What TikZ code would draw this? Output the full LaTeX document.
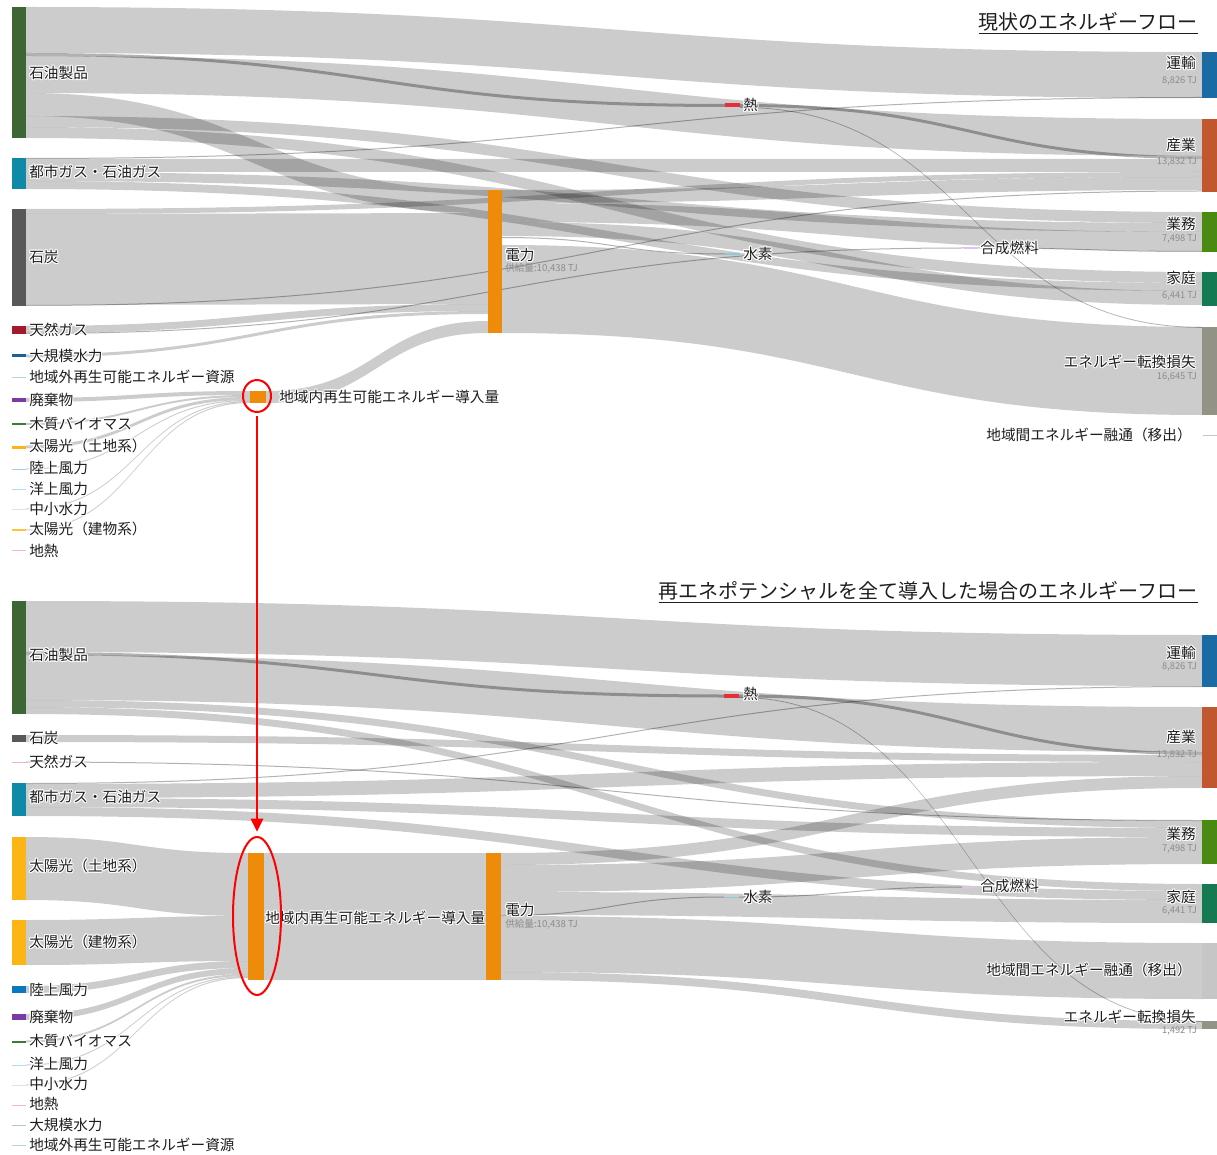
\documentclass[tikz,border=0pt]{standalone}
\usepackage{fontspec}
\setmainfont{Noto Sans CJK JP}
\usetikzlibrary{calc,fit,shapes.geometric,arrows.meta}
\pgfdeclarelayer{back}
\pgfdeclarelayer{flows}
\pgfsetlayers{back,flows,main}

\definecolor{oilc}{HTML}{3D6634}
\definecolor{gasc}{HTML}{0F89A8}
\definecolor{coalc}{HTML}{585858}
\definecolor{ngc}{HTML}{A5192E}
\definecolor{ngpc}{HTML}{F2B0C0}
\definecolor{hydc}{HTML}{1F5F99}
\definecolor{hydlc}{HTML}{A9C6DA}
\definecolor{extc}{HTML}{B7DDB7}
\definecolor{wasc}{HTML}{7A3BA8}
\definecolor{bioc}{HTML}{3F7A3A}
\definecolor{solc}{HTML}{FDB515}
\definecolor{solbc}{HTML}{FFC43D}
\definecolor{onwlc}{HTML}{9DCFE8}
\definecolor{onwc}{HTML}{0A78BE}
\definecolor{offc}{HTML}{AEE0F2}
\definecolor{smhc}{HTML}{D9E5EF}
\definecolor{geoc}{HTML}{F2B6C6}
\definecolor{rinc}{HTML}{EE8C0A}
\definecolor{heatc}{HTML}{E63038}
\definecolor{h2c}{HTML}{8CCAD8}
\definecolor{sync}{HTML}{E2C2F2}
\definecolor{trac}{HTML}{1A6AA4}
\definecolor{indc}{HTML}{C1572F}
\definecolor{comc}{HTML}{4B8A12}
\definecolor{homc}{HTML}{157A52}
\definecolor{losc}{HTML}{939385}
\definecolor{expc}{HTML}{C6C6C6}
\definecolor{tjgray}{HTML}{8C8C8C}
\definecolor{lblc}{HTML}{1E1E1E}

\newcommand\lblfont{\fontsize{11}{13}\selectfont}
\newcommand\tjfont{\fontsize{7}{8}\selectfont}
\newcommand\suplfont{\fontsize{7.2}{8.5}\selectfont}
\newcommand\ttlfont{\fontsize{15}{18}\selectfont}

\newcommand\halo[1]{\setbox0=\hbox{#1}%
 \rlap{\color{white}\kern0.8pt\copy0}%
 \rlap{\color{white}\kern-0.8pt\copy0}%
 \rlap{\color{white}\raise0.8pt\copy0}%
 \rlap{\color{white}\lower0.8pt\copy0}%
 \rlap{\color{white}\kern0.6pt\raise0.6pt\copy0}%
 \rlap{\color{white}\kern-0.6pt\raise0.6pt\copy0}%
 \rlap{\color{white}\kern0.6pt\lower0.6pt\copy0}%
 \rlap{\color{white}\kern-0.6pt\lower0.6pt\copy0}%
 \box0}

\tikzset{
 barnode/.style={inner sep=0pt,outer sep=0pt,draw=none,minimum width=0pt,minimum height=0pt},
 flowfill/.style={fill=black,fill opacity=0.2},
 thinf/.style={fill=black,fill opacity=0.3},
 darkf/.style={fill=black,fill opacity=0.3},
 lbl/.style={anchor=west,inner sep=0pt,font=\lblfont,text=lblc},
 rlbl/.style={anchor=east,inner sep=0pt,font=\lblfont,text=lblc},
 tj/.style={anchor=east,inner sep=0pt,font=\tjfont,text=tjgray},
 supl/.style={anchor=west,inner sep=0pt,font=\suplfont,text=tjgray},
 ttl/.style={anchor=south east,inner sep=0pt,font=\ttlfont,text=lblc},
 ring/.style={draw=red,line width=1.5pt,ellipse,inner sep=0pt},
 redarrow/.style={draw=red,line width=2.2pt,-{Triangle[width=9pt,length=10pt]}},
}

\newcommand\mkbar[6]{\node[barnode,fill=#2,fit={(#3,#4) (#5,#6)}] (#1) {};}

\newcommand\flow[7][]{%
 \begin{pgfonlayer}{flows}
 \path (#2.east |- 0,#3) coordinate (fa) (#2.east |- 0,#4) coordinate (fb)
       (#5.west |- 0,#6) coordinate (fc) (#5.west |- 0,#7) coordinate (fd);
 \path ($(fa)!0.5!(fc)$) coordinate (fm);
 \fill[flowfill,#1] (fa) .. controls (fm |- fa) and (fm |- fc) .. (fc) -- (fd) .. controls (fm |- fd) and (fm |- fb) .. (fb) -- cycle;
 \end{pgfonlayer}}

\begin{document}
\begin{tikzpicture}[x=0.75pt,y=-0.75pt]
\begin{pgfonlayer}{back}
\fill[white] (0,0) rectangle (1217,1155);
\end{pgfonlayer}
\useasboundingbox (0,0) rectangle (1217,1155);

%================ TOP DIAGRAM =================
\mkbar{oilA}{oilc}{12}{7}{26}{138}
\mkbar{gasA}{gasc}{12}{158}{26}{189}
\mkbar{coalA}{coalc}{12}{209}{26}{306}
\mkbar{ngA}{ngc}{12}{326}{26}{334}
\mkbar{hydA}{hydc}{12}{354.5}{26}{357.5}
\mkbar{extA}{extc}{12}{377}{26}{378.5}
\mkbar{wasA}{wasc}{12}{398}{26}{402}
\mkbar{bioA}{bioc}{12}{423}{26}{425}
\mkbar{solLA}{solc}{12}{445.5}{26}{448.5}
\mkbar{onwA}{onwlc}{12}{468.5}{26}{469.8}
\mkbar{offA}{offc}{12}{488.5}{26}{489.8}
\mkbar{smhA}{smhc}{12}{508.5}{26}{509.8}
\mkbar{solBA}{solbc}{12}{529}{26}{531}
\mkbar{geoA}{geoc}{12}{550}{26}{551.3}
\mkbar{rinA}{rinc}{250}{391}{266}{403}
\mkbar{elA}{rinc}{488}{190}{502}{333}
\mkbar{heatA}{heatc}{725}{103.5}{740}{107.5}
\mkbar{h2A}{h2c}{725}{253.5}{740}{254.8}
\mkbar{synA}{sync}{964}{247.5}{978}{248.8}
\mkbar{traA}{trac}{1202}{52}{1217}{98}
\mkbar{indA}{indc}{1202}{119}{1217}{192}
\mkbar{comA}{comc}{1202}{212}{1217}{252}
\mkbar{homA}{homc}{1202}{272}{1217}{306}
\mkbar{losA}{losc}{1202}{327}{1217}{415}
\mkbar{expA}{expc}{1203}{434.5}{1217}{435.7}

\flow{oilA}{7}{53}{traA}{52}{98}
\flow[darkf]{oilA}{53}{56}{heatA}{104}{107}
\flow{oilA}{56}{93}{indA}{119}{156}
\flow{oilA}{93}{116}{elA}{190}{213}
\flow{oilA}{116}{127}{comA}{212}{223}
\flow{oilA}{127}{138}{homA}{272}{283}
\flow[thinf]{gasA}{158}{159}{traA}{97}{98}
\flow{gasA}{159}{172}{indA}{159}{172}
\flow{gasA}{172}{181}{comA}{223}{232}
\flow{gasA}{181}{189}{homA}{283}{291}
\flow{coalA}{209}{214}{indA}{172}{177}
\flow{coalA}{214}{305}{elA}{213}{304}
\flow[thinf]{coalA}{305}{306}{indA}{190.5}{191.5}
\flow{ngA}{326}{333}{elA}{304}{311}
\flow[thinf]{ngA}{333}{334}{synA}{247.5}{248.5}
\flow{hydA}{354.5}{357.5}{elA}{311}{314}
\flow{rinA}{391}{403}{elA}{321}{333}
\flow[darkf]{heatA}{104}{107}{indA}{156}{159}
\flow[thinf]{heatA}{107}{107.8}{losA}{327}{327.8}
\flow{elA}{190}{203}{indA}{177}{190}
\flow{elA}{203}{222}{comA}{232}{251}
\flow{elA}{222}{236}{homA}{291}{305}
\flow[thinf]{elA}{237}{238}{h2A}{253.5}{254.5}
\flow{elA}{245}{333}{losA}{327}{415}
\flow[thinf]{synA}{247.5}{248.5}{comA}{251}{252}
\flow{wasA}{398}{402}{rinA}{391}{395}
\flow{bioA}{423}{425}{rinA}{395}{397}
\flow{solLA}{445.5}{448.5}{rinA}{397}{400}
\flow{onwA}{468.5}{469.5}{rinA}{400}{401}
\flow{smhA}{508.5}{509.5}{rinA}{401}{402}
\flow{solBA}{529.5}{530.5}{rinA}{402}{403}

\node[ttl] (ttlA) at (1198,31.5) {現状のエネルギーフロー};
\coordinate (ulA1) at (ttlA.south west |- 0,33.5);
\coordinate (ulA2) at (ttlA.south east |- 0,33.5);
\draw[line width=0.8pt,lblc] (ulA1) -- (ulA2);

\node[lbl] (lOilA) at (29,73) {\halo{石油製品}};
\node[lbl] (lGasA) at (29,172) {\halo{都市ガス・石油ガス}};
\node[lbl] (lCoalA) at (29,257) {\halo{石炭}};
\node[lbl] (lNgA) at (29,330) {\halo{天然ガス}};
\node[lbl] (lHydA) at (29,356) {\halo{大規模水力}};
\node[lbl] (lExtA) at (29,377) {\halo{地域外再生可能エネルギー資源}};
\node[lbl] (lWasA) at (29,400) {\halo{廃棄物}};
\node[lbl] (lBioA) at (29,424) {\halo{木質バイオマス}};
\node[lbl] (lSolLA) at (29,446) {\halo{太陽光（土地系）}};
\node[lbl] (lOnwA) at (29,468) {\halo{陸上風力}};
\node[lbl] (lOffA) at (29,489) {\halo{洋上風力}};
\node[lbl] (lSmhA) at (29,509) {\halo{中小水力}};
\node[lbl] (lSolBA) at (29,529) {\halo{太陽光（建物系）}};
\node[lbl] (lGeoA) at (29,551) {\halo{地熱}};

\node[lbl] (lRinA) at (279,397) {\halo{地域内再生可能エネルギー導入量}};
\node[lbl] (lElA) at (505,255) {\halo{電力}};
\node[supl] (sElA) at (505,268) {供給量:10,438 TJ};
\node[lbl] (lHeatA) at (743,105) {\halo{熱}};
\node[lbl] (lH2A) at (743,254) {\halo{水素}};
\node[lbl] (lSynA) at (980,248) {\halo{合成燃料}};

\node[rlbl] (lTraA) at (1196,63) {\halo{運輸}};
\node[tj] (vTraA) at (1197,81) {8,826 TJ};
\node[rlbl] (lIndA) at (1196,145) {\halo{産業}};
\node[tj] (vIndA) at (1197,162) {13,832 TJ};
\node[rlbl] (lComA) at (1196,224) {\halo{業務}};
\node[tj] (vComA) at (1197,239) {7,498 TJ};
\node[rlbl] (lHomA) at (1196,278) {\halo{家庭}};
\node[tj] (vHomA) at (1197,296) {6,441 TJ};
\node[rlbl] (lLosA) at (1196,362) {\halo{エネルギー転換損失}};
\node[tj] (vLosA) at (1197,377) {16,645 TJ};
\node[rlbl] (lExpA) at (1192,435) {\halo{地域間エネルギー融通（移出）}};

%================ BOTTOM DIAGRAM =================
\mkbar{oilB}{oilc}{12}{601}{26}{714}
\mkbar{coalB}{coalc}{12}{735}{26}{742}
\mkbar{ngB}{ngpc}{12}{761.5}{26}{762.8}
\mkbar{gasB}{gasc}{12}{783}{26}{816}
\mkbar{solLB}{solc}{12}{837}{26}{900}
\mkbar{solBB}{solc}{12}{920}{26}{965}
\mkbar{onwB}{onwc}{12}{986}{26}{993}
\mkbar{wasB}{wasc}{12}{1014}{26}{1020}
\mkbar{bioB}{bioc}{12}{1040.5}{26}{1042.5}
\mkbar{offB}{offc}{12}{1064.5}{26}{1065.8}
\mkbar{smhB}{smhc}{12}{1084.5}{26}{1085.8}
\mkbar{geoB}{geoc}{12}{1104.5}{26}{1105.8}
\mkbar{hydB}{hydlc}{12}{1124.5}{26}{1125.8}
\mkbar{extB}{extc}{12}{1144.5}{26}{1145.8}
\mkbar{rinB}{rinc}{248}{853}{264}{980}
\mkbar{elB}{rinc}{486}{853}{501}{980}
\mkbar{heatB}{heatc}{724}{694}{739}{698}
\mkbar{h2B}{h2c}{724}{896.5}{739}{897.8}
\mkbar{synB}{sync}{962}{886.5}{978}{887.8}
\mkbar{traB}{trac}{1202}{635}{1217}{687}
\mkbar{indB}{indc}{1202}{707}{1217}{788}
\mkbar{comB}{comc}{1202}{820}{1217}{864}
\mkbar{homB}{homc}{1202}{884}{1217}{923}
\mkbar{expB}{expc}{1202}{943}{1217}{999}
\mkbar{losB}{losc}{1202}{1021}{1217}{1029}

\flow{oilB}{601}{652}{traB}{635}{686}
\flow[darkf]{oilB}{652}{655}{heatB}{694.5}{697.5}
\flow{oilB}{655}{700}{indB}{707}{752}
\flow{oilB}{700}{707}{comB}{821}{828}
\flow{oilB}{707}{714}{homB}{884}{891}
\flow[darkf]{heatB}{694.5}{697.5}{indB}{752}{755}
\flow[thinf]{heatB}{697}{697.8}{losB}{1021}{1021.8}
\flow{coalB}{735}{742}{indB}{755}{762}
\flow[thinf]{ngB}{761.5}{762.5}{comB}{820}{821}
\flow[thinf]{gasB}{783}{784}{traB}{686}{687}
\flow{gasB}{784}{798}{indB}{762}{776}
\flow{gasB}{798}{807}{comB}{828}{837}
\flow{gasB}{807}{816}{homB}{891}{900}
\flow{elB}{853}{865}{indB}{776}{788}
\flow{elB}{865}{892}{comB}{837}{864}
\flow{elB}{892}{915}{homB}{900}{923}
\flow[thinf]{elB}{915}{916}{h2B}{896.5}{897.5}
\flow{elB}{916}{972}{expB}{943}{999}
\flow{elB}{972}{980}{losB}{1021}{1029}
\flow[thinf]{h2B}{896.5}{897.5}{synB}{886.5}{887.5}
\flow{rinB}{853}{980}{elB}{853}{980}
\flow{solLB}{837}{900}{rinB}{853}{916}
\flow{solBB}{920}{965}{rinB}{916}{961}
\flow{onwB}{986}{993}{rinB}{961}{968}
\flow{wasB}{1014}{1020}{rinB}{968}{974}
\flow{bioB}{1040.5}{1042.5}{rinB}{974}{976}
\flow{offB}{1064.5}{1065.5}{rinB}{976}{977}
\flow{smhB}{1084.5}{1085.5}{rinB}{977}{978}

\node[ttl] (ttlB) at (1198,600.5) {再エネポテンシャルを全て導入した場合のエネルギーフロー};
\coordinate (ulB1) at (ttlB.south west |- 0,602.5);
\coordinate (ulB2) at (ttlB.south east |- 0,602.5);
\draw[line width=0.8pt,lblc] (ulB1) -- (ulB2);

\node[lbl] (lOilB) at (29,655) {\halo{石油製品}};
\node[lbl] (lCoalB) at (29,738) {\halo{石炭}};
\node[lbl] (lNgB) at (29,762) {\halo{天然ガス}};
\node[lbl] (lGasB) at (29,797) {\halo{都市ガス・石油ガス}};
\node[lbl] (lSolLB) at (29,866) {\halo{太陽光（土地系）}};
\node[lbl] (lSolBB) at (29,942) {\halo{太陽光（建物系）}};
\node[lbl] (lOnwB) at (29,990) {\halo{陸上風力}};
\node[lbl] (lWasB) at (29,1017) {\halo{廃棄物}};
\node[lbl] (lBioB) at (29,1041) {\halo{木質バイオマス}};
\node[lbl] (lOffB) at (29,1064) {\halo{洋上風力}};
\node[lbl] (lSmhB) at (29,1084) {\halo{中小水力}};
\node[lbl] (lGeoB) at (29,1104) {\halo{地熱}};
\node[lbl] (lHydB) at (29,1125) {\halo{大規模水力}};
\node[lbl] (lExtB) at (29,1145) {\halo{地域外再生可能エネルギー資源}};

\node[lbl] (lRinB) at (265,918) {\halo{地域内再生可能エネルギー導入量}};
\node[lbl] (lElB) at (505,910) {\halo{電力}};
\node[supl] (sElB) at (505,924) {供給量:10,438 TJ};
\node[lbl] (lHeatB) at (743,694) {\halo{熱}};
\node[lbl] (lH2B) at (743,897) {\halo{水素}};
\node[lbl] (lSynB) at (980,886) {\halo{合成燃料}};

\node[rlbl] (lTraB) at (1196,653) {\halo{運輸}};
\node[tj] (vTraB) at (1197,667) {8,826 TJ};
\node[rlbl] (lIndB) at (1196,737) {\halo{産業}};
\node[tj] (vIndB) at (1197,755) {13,832 TJ};
\node[rlbl] (lComB) at (1196,834) {\halo{業務}};
\node[tj] (vComB) at (1197,849) {7,498 TJ};
\node[rlbl] (lHomB) at (1196,897) {\halo{家庭}};
\node[tj] (vHomB) at (1197,911) {6,441 TJ};
\node[rlbl] (lExpB) at (1192,970) {\halo{地域間エネルギー融通（移出）}};
\node[rlbl] (lLosB) at (1196,1017) {\halo{エネルギー転換損失}};
\node[tj] (vLosB) at (1197,1031) {1,492 TJ};

%================ RED ANNOTATION =================
\node[ring,minimum width=21pt,minimum height=24pt] (ringA) at (257,396) {};
\node[ring,minimum width=36pt,minimum height=118.5pt] (ringB) at (257,916) {};
\draw[redarrow,shorten >=3pt] ([yshift=-2.2pt]ringA.south) -- (ringB.north);
\end{tikzpicture}
\end{document}
